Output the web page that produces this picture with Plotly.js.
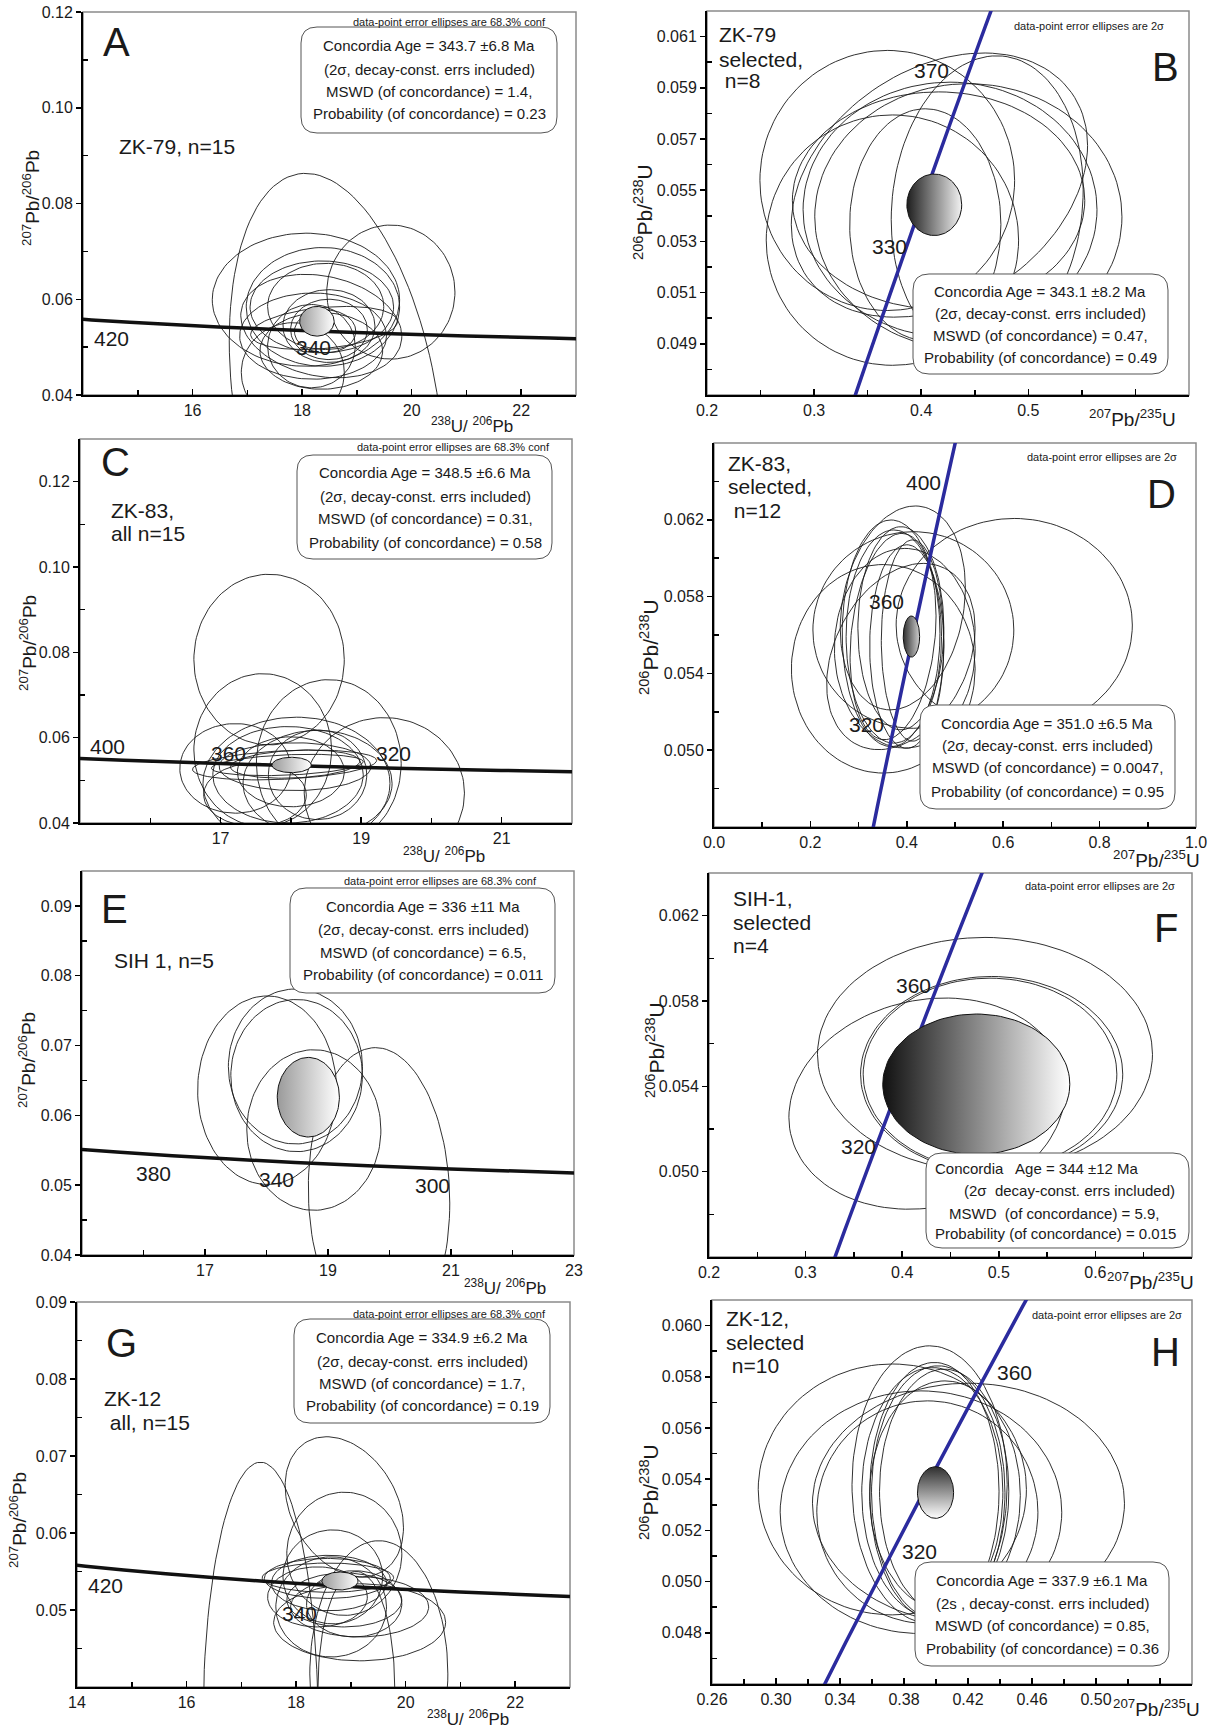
<!DOCTYPE html>
<html><head><meta charset="utf-8">
<script src="https://cdn.plot.ly/plotly-3.0.1.min.js"></script>
<style>body{margin:0;background:#fff}</style>
</head><body><div id="chart" style="width:1213px;height:1729px"></div>
<script>
const FONT = 'Liberation Sans, Arial, Helvetica, sans-serif';
const W = 1213, H = 1729;

// ---- Concordia reference curve, ages 260..460 Ma ----
const concordiaAgesMa = [260, 280, 300, 320, 340, 360, 380, 400, 420, 440, 460];
const teraWasserburgX = [24.297, 22.527, 20.992, 19.649, 18.465, 17.411, 16.469, 15.621, 14.854, 14.157, 13.520];
const teraWasserburgY = [0.05143, 0.05188, 0.05233, 0.05279, 0.05326, 0.05374, 0.05422, 0.05470, 0.05519, 0.05569, 0.05619];
const wetherillX = [0.2918, 0.3175, 0.3437, 0.3705, 0.3977, 0.4255, 0.4539, 0.4828, 0.5123, 0.5424, 0.5731];
const wetherillY = [0.04116, 0.04439, 0.04764, 0.05089, 0.05416, 0.05743, 0.06072, 0.06402, 0.06732, 0.07064, 0.07397];

// ---- Error ellipses: [centre x, centre y, half-extent x, half-extent y, rho] ----
const ellipsesA = [
 [18.63, 0.0370, 1.96, 0.0493, -0.29], [18.07, 0.0599, 1.71, 0.0139, 0], [19.62, 0.0615, 1.17, 0.0140, 0],
 [18.38, 0.0584, 1.40, 0.0124, 0], [18.36, 0.0584, 1.31, 0.0096, 0], [18.43, 0.0585, 1.06, 0.0090, 0],
 [18.20, 0.0523, 1.34, 0.0090, 0], [18.35, 0.0492, 1.12, 0.0080, 0], [18.40, 0.0540, 1.34, 0.0045, 0.3],
 [18.49, 0.0544, 0.84, 0.0076, 0], [18.49, 0.0537, 0.70, 0.0063, 0], [17.83, 0.0447, 0.94, 0.0104, 0],
 [18.17, 0.0502, 0.80, 0.0087, 0], [18.35, 0.0544, 1.47, 0.0108, -0.2], [18.42, 0.0533, 0.56, 0.0045, 0]
];
const concordiaEllA = [18.27, 0.0554, 0.315, 0.0031, 0];

const ellipsesB = [
 [0.3683, 0.05538, 0.1189, 0.00508, 0], [0.3731, 0.05305, 0.1178, 0.00489, 0], [0.4170, 0.05520, 0.1383, 0.00516, 0.3],
 [0.4269, 0.05424, 0.1372, 0.00498, 0], [0.4440, 0.05396, 0.1434, 0.00520, 0], [0.4038, 0.05366, 0.0706, 0.00452, 0],
 [0.4162, 0.05460, 0.1365, 0.00424, 0], [0.4616, 0.05443, 0.0896, 0.00582, 0.1]
];
const concordiaEllB = [0.4122, 0.05443, 0.0256, 0.0012, 0];

const ellipsesC = [
 [17.69, 0.0783, 1.07, 0.0200, 0], [17.60, 0.0571, 0.98, 0.0179, 0], [18.54, 0.0540, 1.03, 0.0196, 0],
 [19.33, 0.0470, 1.14, 0.0177, 0], [18.08, 0.0493, 1.33, 0.0155, 0], [17.21, 0.0528, 0.79, 0.0105, 0],
 [17.91, 0.0536, 1.31, 0.0035, 0.3], [17.95, 0.0536, 1.08, 0.0025, 0.3], [18.06, 0.0538, 0.92, 0.0033, 0.2],
 [18.06, 0.0532, 1.08, 0.0056, 0], [17.96, 0.0513, 1.07, 0.0113, 0], [18.38, 0.0493, 1.06, 0.0124, 0],
 [18.00, 0.0520, 0.76, 0.0082, 0], [18.38, 0.0513, 0.70, 0.0105, 0], [17.49, 0.0466, 0.73, 0.0074, 0]
];
const concordiaEllC = [18.01, 0.0536, 0.28, 0.0018, 0];

const ellipsesD = [
 [0.6229, 0.05652, 0.245, 0.00555, 0], [0.3512, 0.05424, 0.1906, 0.00543, 0], [0.4136, 0.05626, 0.2084, 0.00512, 0],
 [0.3917, 0.05741, 0.1298, 0.00531, 0.2], [0.3674, 0.05609, 0.1014, 0.00590, 0], [0.3731, 0.05592, 0.0990, 0.00555, 0],
 [0.3715, 0.05592, 0.0892, 0.00537, 0.2], [0.3877, 0.05635, 0.0892, 0.00529, 0], [0.4120, 0.05571, 0.0649, 0.00524, 0],
 [0.3877, 0.05488, 0.1540, 0.00485, 0.3], [0.4000, 0.05540, 0.0770, 0.00530, 0], [0.3958, 0.05531, 0.1460, 0.00520, 0]
];
const concordiaEllD = [0.4096, 0.05592, 0.017, 0.00107, 0];

const ellipsesE = [
 [18.01, 0.0636, 1.13, 0.0135, 0], [18.47, 0.0670, 1.09, 0.0111, 0], [18.49, 0.0657, 1.07, 0.0109, 0],
 [18.77, 0.0579, 1.09, 0.0115, 0], [19.83, 0.0485, 1.15, 0.0212, -0.05]
];
const concordiaEllE = [18.68, 0.0626, 0.505, 0.0057, 0];

const ellipsesF = [
 [0.4857, 0.0555, 0.1734, 0.00548, 0], [0.4257, 0.05319, 0.1430, 0.00495, 0.13],
 [0.4926, 0.05457, 0.1357, 0.00458, 0], [0.4909, 0.05457, 0.1313, 0.00450, 0]
];
const concordiaEllF = [0.4767, 0.0541, 0.0968, 0.00329, 0];

const ellipsesG = [
 [17.35, 0.0352, 1.05, 0.0340, 0], [18.88, 0.0634, 1.08, 0.0091, -0.3], [18.88, 0.0573, 1.05, 0.0080, 0],
 [19.51, 0.0417, 1.26, 0.0173, 0], [19.10, 0.0400, 0.70, 0.0150, 0], [18.58, 0.0542, 1.20, 0.0019, 0],
 [18.57, 0.0541, 1.15, 0.0026, 0], [18.60, 0.0535, 1.05, 0.0036, 0], [19.16, 0.0484, 1.57, 0.0050, 0],
 [18.64, 0.0504, 1.01, 0.0065, 0], [19.16, 0.0504, 1.26, 0.0039, 0], [18.67, 0.0543, 0.91, 0.0061, 0],
 [18.39, 0.0517, 0.91, 0.0039, 0], [19.06, 0.0508, 0.87, 0.0043, 0], [18.88, 0.0513, 1.05, 0.0035, 0]
];
const concordiaEllG = [18.80, 0.05377, 0.33, 0.00117, 0];

const ellipsesH = [
 [0.3727, 0.05360, 0.0838, 0.00490, 0], [0.3906, 0.05271, 0.0880, 0.00474, 0], [0.4203, 0.05306, 0.0975, 0.00469, 0],
 [0.3960, 0.05379, 0.0485, 0.00542, 0], [0.3990, 0.05353, 0.0404, 0.00503, 0], [0.4014, 0.05347, 0.0417, 0.00496, 0],
 [0.4051, 0.05353, 0.0404, 0.00477, 0], [0.3977, 0.05349, 0.0441, 0.00487, 0], [0.3946, 0.05271, 0.0691, 0.00435, 0],
 [0.4056, 0.05336, 0.0471, 0.00448, 0]
];
const concordiaEllH = [0.3997, 0.05348, 0.0113, 0.00101, 0];

// ---- Texts ----
const panelLetters = ['A','B','C','D','E','F','G','H'];
const noteTW = 'data-point error ellipses are 68.3% conf';
const noteW = 'data-point error ellipses are 2σ';
const statsA = ['Concordia Age = 343.7 ±6.8 Ma','(2σ, decay-const. errs included)','MSWD (of concordance) = 1.4,','Probability (of concordance) = 0.23'];
const statsB = ['Concordia Age = 343.1 ±8.2 Ma','(2σ, decay-const. errs included)','MSWD (of concordance) = 0.47,','Probability (of concordance) = 0.49'];
const statsC = ['Concordia Age = 348.5 ±6.6 Ma','(2σ, decay-const. errs included)','MSWD (of concordance) = 0.31,','Probability (of concordance) = 0.58'];
const statsD = ['Concordia Age = 351.0 ±6.5 Ma','(2σ, decay-const. errs included)','MSWD (of concordance) = 0.0047,','Probability (of concordance) = 0.95'];
const statsE = ['Concordia Age = 336 ±11 Ma','(2σ, decay-const. errs included)','MSWD (of concordance) = 6.5,','Probability (of concordance) = 0.011'];
const statsF = ['Concordia\u00a0\u00a0 Age = 344 ±12 Ma','(2σ\u00a0 decay-const. errs included)','MSWD\u00a0 (of concordance) = 5.9,','Probability (of concordance) = 0.015'];
const statsG = ['Concordia Age = 334.9 ±6.2 Ma','(2σ, decay-const. errs included)','MSWD (of concordance) = 1.7,','Probability (of concordance) = 0.19'];
const statsH = ['Concordia Age = 337.9 ±6.1 Ma','(2s , decay-const. errs included)','MSWD (of concordance) = 0.85,','Probability (of concordance) = 0.36'];
const sampleA = ['ZK-79, n=15'];
const sampleB = ['ZK-79', 'selected,', ' n=8'];
const sampleC = ['ZK-83,', 'all n=15'];
const sampleD = ['ZK-83,', 'selected,', ' n=12'];
const sampleE = ['SIH 1, n=5'];
const sampleF = ['SIH-1,', 'selected', 'n=4'];
const sampleG = ['ZK-12', ' all, n=15'];
const sampleH = ['ZK-12,', 'selected', ' n=10'];
const agesA = ['420','340'], agesB = ['370','330'], agesC = ['400','360','320'], agesD = ['400','360','320'];
const agesE = ['380','340','300'], agesF = ['360','320'], agesG = ['420','340'], agesH = ['360','320'];
const titleTWx = '<sup>238</sup>U/ <sup>206</sup>Pb', titleTWy = '<sup>207</sup>Pb/<sup>206</sup>Pb';
const titleWx = '<sup>207</sup>Pb/<sup>235</sup>U', titleWy = '<sup>206</sup>Pb/<sup>238</sup>U';

// ---- Layout of the panels (pixel geometry) ----
const panels = [
 {kind:'tw', ell:ellipsesA, conc:concordiaEllA, grad:['horizontal','#9c9c9c','#ffffff'], xd:[83,576], yd:[12,395], xr:[14,23], yr:[0.04,0.12],
  xt:[16,18,20,22], xtt:['16','18','20','22'], xm:[15,17,19,21], yt:[0.04,0.06,0.08,0.10,0.12], ytt:['0.04','0.06','0.08','0.10','0.12'], ym:[0.05,0.07,0.09,0.11],
  letter:[116,42], note:[450,22], box:[301,27,557,133], lx:[429,429,429,429], ly:[46,69,92,114], stats:statsA,
  sample:sampleA, sx:[117], sy:[146], ages:agesA, ap:[[111,338],[313,348]], xtp:[472,425], ytp:[31,198]},
 {kind:'w', ell:ellipsesB, conc:concordiaEllB, grad:['horizontal','#1e1e1e','#f2f2f2'], xd:[707,1189], yd:[11,395], xr:[0.2,0.65], yr:[0.047,0.062],
  xt:[0.2,0.3,0.4,0.5,0.6], xtt:['0.2','0.3','0.4','0.5',''], xm:[0.25,0.35,0.45,0.55],
  yt:[0.049,0.051,0.053,0.055,0.057,0.059,0.061], ytt:['0.049','0.051','0.053','0.055','0.057','0.059','0.061'], ym:[0.048,0.050,0.052,0.054,0.056,0.058,0.060],
  letter:[1165,67], note:[1089,26], box:[913,274,1168,374], lx:[1040,1040,1040,1040], ly:[291,313,335,357], stats:statsB,
  sample:sampleB, sx:[717,717,717], sy:[35,59,81], ages:agesB, ap:[[931,71],[889,247]], xtp:[1132,418], ytp:[643,212]},
 {kind:'tw', ell:ellipsesC, conc:concordiaEllC, grad:['horizontal','#9a9a9a','#ffffff'], xd:[80,572], yd:[439,823], xr:[15,22], yr:[0.04,0.13],
  xt:[17,19,21], xtt:['17','19','21'], xm:[16,18,20], yt:[0.04,0.06,0.08,0.10,0.12], ytt:['0.04','0.06','0.08','0.10','0.12'], ym:[0.05,0.07,0.09,0.11],
  letter:[115,462], note:[453,447], box:[297,455,552,559], lx:[425,425,425,425], ly:[473,497,519,542], stats:statsC,
  sample:sampleC, sx:[109,109], sy:[510,533], ages:agesC, ap:[[107,746],[229,753],[393,753]], xtp:[444,855], ytp:[28,643]},
 {kind:'w', ell:ellipsesD, conc:concordiaEllD, grad:['horizontal','#2e2e2e','#cfcfcf'], xd:[714,1196], yd:[443,827], xr:[0,1.0], yr:[0.046,0.066],
  xt:[0,0.2,0.4,0.6,0.8,1.0], xtt:['0.0','0.2','0.4','0.6','0.8','1.0'], xm:[0.1,0.3,0.5,0.7,0.9],
  yt:[0.050,0.054,0.058,0.062], ytt:['0.050','0.054','0.058','0.062'], ym:[0.048,0.052,0.056,0.060,0.064],
  letter:[1161,494], note:[1102,457], box:[920,705,1175,809], lx:[1047,1047,1047,1047], ly:[723,745,768,791], stats:statsD,
  sample:sampleD, sx:[726,726,726], sy:[463,487,510], ages:agesD, ap:[[924,482],[886,602],[866,724]], xtp:[1156,859], ytp:[649,647]},
 {kind:'tw', ell:ellipsesE, conc:concordiaEllE, grad:['horizontal','#9a9a9a','#ffffff'], xd:[82,574], yd:[871,1255], xr:[15,23], yr:[0.04,0.095],
  xt:[17,19,21,23], xtt:['17','19','21','23'], xm:[16,18,20,22], yt:[0.04,0.05,0.06,0.07,0.08,0.09], ytt:['0.04','0.05','0.06','0.07','0.08','0.09'],
  ym:[0.045,0.055,0.065,0.075,0.085],
  letter:[114,909], note:[440,881], box:[290,888,555,993], lx:[423,423,423,423], ly:[906,929,952,974], stats:statsE,
  sample:sampleE, sx:[112], sy:[960], ages:agesE, ap:[[153,1173],[276,1179],[432,1185]], xtp:[505,1287], ytp:[27,1060]},
 {kind:'w', ell:ellipsesF, conc:concordiaEllF, grad:['horizontal','#111111','#ffffff'], xd:[709,1192], yd:[873,1257], xr:[0.2,0.7], yr:[0.046,0.064],
  xt:[0.2,0.3,0.4,0.5,0.6], xtt:['0.2','0.3','0.4','0.5','0.6'], xm:[0.25,0.35,0.45,0.55,0.65],
  yt:[0.050,0.054,0.058,0.062], ytt:['0.050','0.054','0.058','0.062'], ym:[0.048,0.052,0.056,0.060],
  letter:[1166,928], note:[1100,886], box:[926,1153,1189,1248], lx:[1037,1069,1054,1055], ly:[1168,1190,1213,1233], stats:statsF,
  sample:sampleF, sx:[731,731,731], sy:[898,922,946], ages:agesF, ap:[[913,985],[858,1146]], xtp:[1150,1281], ytp:[655,1050]},
 {kind:'tw', ell:ellipsesG, conc:concordiaEllG, grad:['horizontal','#9a9a9a','#ffffff'], xd:[77,570], yd:[1302,1687], xr:[14,23], yr:[0.04,0.09],
  xt:[14,16,18,20,22], xtt:['14','16','18','20','22'], xm:[15,17,19,21], yt:[0.05,0.06,0.07,0.08,0.09], ytt:['0.05','0.06','0.07','0.08','0.09'],
  ym:[0.045,0.055,0.065,0.075,0.085],
  letter:[121,1343], note:[449,1314], box:[294,1319,550,1423], lx:[422,422,422,422], ly:[1337,1361,1383,1405], stats:statsG,
  sample:sampleG, sx:[102,102], sy:[1398,1422], ages:agesG, ap:[[105,1585],[299,1613]], xtp:[468,1718], ytp:[18,1520]},
 {kind:'w', ell:ellipsesH, conc:concordiaEllH, grad:['vertical','#ffffff','#2e2e2e'], xd:[712,1192], yd:[1300,1684], xr:[0.26,0.56], yr:[0.046,0.061],
  xt:[0.26,0.30,0.34,0.38,0.42,0.46,0.50,0.54], xtt:['0.26','0.30','0.34','0.38','0.42','0.46','0.50',''], xm:[0.28,0.32,0.36,0.40,0.44,0.48,0.52],
  yt:[0.048,0.050,0.052,0.054,0.056,0.058,0.060], ytt:['0.048','0.050','0.052','0.054','0.056','0.058','0.060'],
  ym:[0.047,0.049,0.051,0.053,0.055,0.057,0.059],
  letter:[1165,1352], note:[1107,1315], box:[915,1562,1169,1666], lx:[1042,1042,1042,1042], ly:[1580,1603,1625,1648], stats:statsH,
  sample:sampleH, sx:[724,724,724], sy:[1318,1342,1365], ages:agesH, ap:[[1014,1372],[919,1551]], xtp:[1156,1708], ytp:[649,1492]}
];

function outline(e) {
  const [cx, cy, ex, ey, rho] = e, s = Math.sqrt(1 - rho * rho), xs = [], ys = [];
  for (let i = 0; i <= 120; i++) {
    const t = 2 * Math.PI * i / 120;
    xs.push(cx + ex * Math.cos(t));
    ys.push(cy + ey * (rho * Math.cos(t) + s * Math.sin(t)));
  }
  return {x: xs, y: ys};
}
const PX = v => v / W, PY = v => 1 - v / H;
function ann(text, x, y, size, extra) {
  return Object.assign({text, x: PX(x), y: PY(y), xref: 'paper', yref: 'paper', showarrow: false,
    xanchor: 'center', yanchor: 'middle', font: {family: FONT, size, color: '#1a1a1a'}}, extra || {});
}
function roundRect(x0, y0, x1, y1, r) {
  const X = v => PX(v).toFixed(5), Y = v => PY(v).toFixed(5);
  return `M${X(x0+r)},${Y(y0)} L${X(x1-r)},${Y(y0)} Q${X(x1)},${Y(y0)} ${X(x1)},${Y(y0+r)} ` +
    `L${X(x1)},${Y(y1-r)} Q${X(x1)},${Y(y1)} ${X(x1-r)},${Y(y1)} L${X(x0+r)},${Y(y1)} ` +
    `Q${X(x0)},${Y(y1)} ${X(x0)},${Y(y1-r)} L${X(x0)},${Y(y0+r)} Q${X(x0)},${Y(y0)} ${X(x0+r)},${Y(y0)} Z`;
}

const traces = [], annotations = [], shapes = [];
const layout = {width: W, height: H, margin: {l: 0, r: 0, t: 0, b: 0}, paper_bgcolor: '#fff', plot_bgcolor: '#fff', showlegend: false};
const tickFont = {family: FONT, size: 16, color: '#1a1a1a'};

panels.forEach((p, i) => {
  const n = i === 0 ? '' : String(i + 1);
  const xa = 'x' + n, ya = 'y' + n;
  layout['xaxis' + n] = {domain: [PX(p.xd[0]), PX(p.xd[1])], range: p.xr, anchor: ya, showline: true, linecolor: '#000', linewidth: 2,
    ticks: 'inside', ticklen: 6, tickwidth: 1.5, tickcolor: '#000', tickmode: 'array', tickvals: p.xt, ticktext: p.xtt,
    minor: {tickmode: 'array', tickvals: p.xm, ticks: 'inside', ticklen: 5, tickwidth: 1.5, tickcolor: '#000', showgrid: false},
    showgrid: false, zeroline: false, tickfont: tickFont, fixedrange: true};
  layout['yaxis' + n] = {domain: [PY(p.yd[1]), PY(p.yd[0])], range: p.yr, anchor: xa, showline: true, linecolor: '#000', linewidth: 2,
    ticks: 'outside', ticklen: 5, tickwidth: 1.5, tickcolor: '#000', tickmode: 'array', tickvals: p.yt, ticktext: p.ytt,
    minor: {tickmode: 'array', tickvals: p.ym, ticks: 'inside', ticklen: 5, tickwidth: 1.5, tickcolor: '#000', showgrid: false},
    showgrid: false, zeroline: false, tickfont: tickFont, fixedrange: true};

  p.ell.forEach(e => {
    const o = outline(e);
    traces.push({type: 'scatter', mode: 'lines', x: o.x, y: o.y, xaxis: xa, yaxis: ya,
      line: {color: '#1a1a1a', width: 0.9}, hoverinfo: 'skip'});
  });
  const tw = p.kind === 'tw';
  traces.push({type: 'scatter', mode: 'lines', x: tw ? teraWasserburgX : wetherillX, y: tw ? teraWasserburgY : wetherillY,
    xaxis: xa, yaxis: ya, line: {color: tw ? '#111' : '#2b2b9e', width: 3.5, shape: 'spline'}, hoverinfo: 'skip'});
  const oc = outline(p.conc);
  traces.push({type: 'scatter', mode: 'lines', x: oc.x, y: oc.y, xaxis: xa, yaxis: ya, fill: 'toself',
    fillgradient: {type: p.grad[0], colorscale: [[0, p.grad[1]], [1, p.grad[2]]]},
    line: {color: '#111', width: 1}, hoverinfo: 'skip'});

  shapes.push({type: 'rect', xref: xa + ' domain', yref: ya + ' domain', x0: 0, x1: 1, y0: 0, y1: 1,
    line: {color: '#8a8a8a', width: 1.5}, layer: 'below'});
  const b = p.box;
  shapes.push({type: 'path', xref: 'paper', yref: 'paper', path: roundRect(b[0], b[1], b[2], b[3], 16),
    fillcolor: '#fff', line: {color: '#555', width: 1}, layer: 'above'});

  annotations.push(ann(panelLetters[i], p.letter[0], p.letter[1], 40));
  annotations.push(ann(tw ? noteTW : noteW, p.note[0], p.note[1], 11));
  p.stats.forEach((s, k) => annotations.push(ann(s, p.lx[k], p.ly[k], 15)));
  p.sample.forEach((s, k) => annotations.push(ann(s.replace(/^ /, '\u00a0'), p.sx[k], p.sy[k], 21, {xanchor: 'left'})));
  p.ages.forEach((s, k) => annotations.push(ann(s, p.ap[k][0], p.ap[k][1], 21)));
  annotations.push(ann(tw ? titleTWx : titleWx, p.xtp[0], p.xtp[1], tw ? 17 : 19));
  annotations.push(ann(tw ? titleTWy : titleWy, p.ytp[0], p.ytp[1], tw ? 19 : 21, {textangle: -90}));
});
layout.shapes = shapes;
layout.annotations = annotations;
Plotly.newPlot('chart', traces, layout, {displayModeBar: false, staticPlot: true});
</script></body></html>
